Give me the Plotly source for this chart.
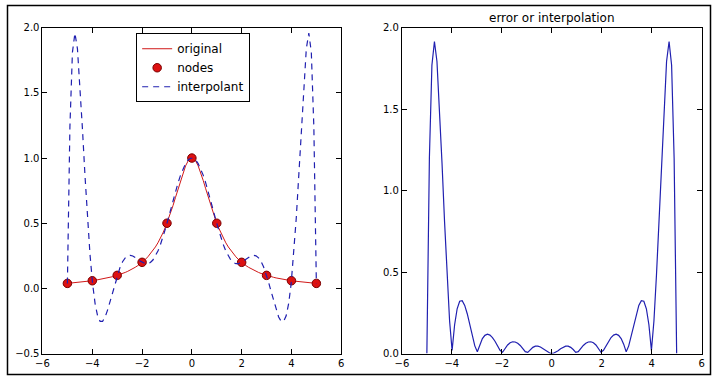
import numpy as np
import plotly.graph_objects as go

# ---- data ----
node_x = [-5, -4, -3, -2, -1, 0, 1, 2, 3, 4, 5]
node_y = [0.0385, 0.0588, 0.1, 0.2, 0.5, 1.0, 0.5, 0.2, 0.1, 0.0588, 0.0385]
x_ticks = [-6, -4, -2, 0, 2, 4, 6]
y_ticks_left = [-0.5, 0.0, 0.5, 1.0, 1.5, 2.0]
y_ticks_right = [0.0, 0.5, 1.0, 1.5, 2.0]

# evaluation grid
xs = np.linspace(-5, 5, 100)


def original(x):
    return 1.0 / (1.0 + x ** 2)


def lagrange(x, xn, yn):
    xn = np.asarray(xn, float)
    yn = np.asarray(yn, float)
    out = np.zeros_like(x, dtype=float)
    for i in range(len(xn)):
        li = np.ones_like(x, dtype=float)
        for j in range(len(xn)):
            if i != j:
                li *= (x - xn[j]) / (xn[i] - xn[j])
        out += yn[i] * li
    return out


f_vals = original(xs)
p_vals = lagrange(xs, node_x, original(np.array(node_x, float)))
err_vals = np.abs(f_vals - p_vals)

RED = "#d01818"
BLUE = "#2020b0"
FONT = "DejaVu Sans"

fig = go.Figure()
fig.add_trace(go.Scatter(x=xs, y=f_vals, mode="lines", name="original",
                         line=dict(color=RED, width=1), xaxis="x", yaxis="y"))
fig.add_trace(go.Scatter(x=node_x, y=node_y, mode="markers", name="nodes",
                         marker=dict(color="#dd1111", size=8.5,
                                     line=dict(color="#7a0000", width=1)),
                         xaxis="x", yaxis="y"))
fig.add_trace(go.Scatter(x=xs, y=p_vals, mode="lines", name="interpolant",
                         line=dict(color=BLUE, width=1.2, dash="6px,5px"),
                         xaxis="x", yaxis="y"))
fig.add_trace(go.Scatter(x=xs, y=err_vals, mode="lines", showlegend=False,
                         line=dict(color=BLUE, width=1.2), xaxis="x2", yaxis="y2"))

W, H = 714, 380
axis_common = dict(showgrid=False, zeroline=False, showline=True, linecolor="black",
                   linewidth=1, mirror="ticks", ticks="inside", ticklen=5,
                   tickcolor="black", tickfont=dict(family=FONT, size=10, color="black"))

fig.update_layout(
    width=W, height=H,
    margin=dict(l=0, r=0, t=0, b=0),
    paper_bgcolor="white", plot_bgcolor="white",
    font=dict(family=FONT, size=10, color="black"),
    xaxis=dict(domain=[36 / W, 339 / W], range=[-6, 6], tickvals=x_ticks,
               anchor="y", **axis_common),
    yaxis=dict(domain=[1 - 358 / H, 1 - 23.3 / H], range=[-0.5, 2.0],
               tickvals=y_ticks_left, tickformat=".1f", anchor="x", **axis_common),
    xaxis2=dict(domain=[400.5 / W, 704.5 / W], range=[-6, 6], tickvals=x_ticks,
                anchor="y2", **axis_common),
    yaxis2=dict(domain=[1 - 358 / H, 1 - 23.3 / H], range=[0, 2.0],
                tickvals=y_ticks_right, tickformat=".1f", anchor="x2", **axis_common),
    showlegend=True,
    legend=dict(x=131 / W, y=1 - 29 / H, xanchor="left", yanchor="top",
                bordercolor="black", borderwidth=1, bgcolor="white",
                font=dict(family=FONT, size=12, color="black"),
                tracegroupgap=0),
    annotations=[dict(text="error or interpolation", xref="x2 domain", yref="paper",
                      x=0.5, y=1 - 13 / H, xanchor="center", yanchor="middle",
                      showarrow=False, font=dict(family=FONT, size=12, color="black"))],
    shapes=[dict(type="rect", xref="paper", yref="paper", x0=0.5 / W, x1=1 - 0.5 / W,
                 y0=0.5 / H, y1=1 - 0.5 / H, line=dict(color="black", width=1.5))],
)

fig.write_html("out.html", config={"displayModeBar": False},
               post_script="document.body.style.margin='0';document.body.style.overflow='hidden';")
